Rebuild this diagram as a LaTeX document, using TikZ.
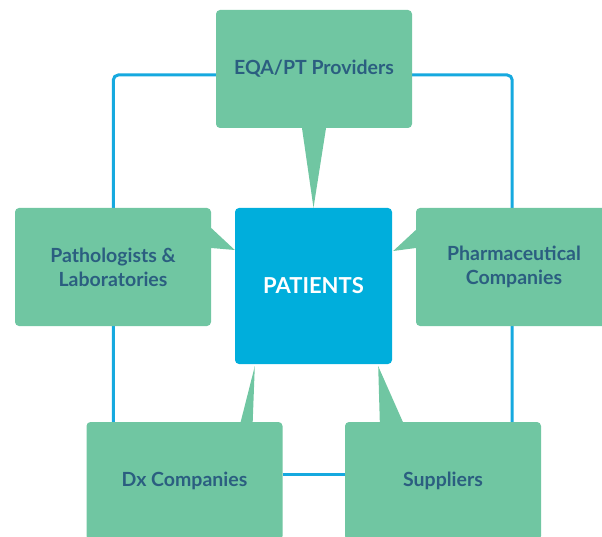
\documentclass[tikz,border=0pt]{standalone}
\usepackage{fontspec}
\setmainfont{Lato}
\usetikzlibrary{positioning,calc,backgrounds}

\definecolor{boxgreen}{HTML}{70C6A2}
\definecolor{patblue}{HTML}{00AEDC}
\definecolor{linkblue}{HTML}{16A9DF}
\definecolor{textblue}{HTML}{2B5E80}

\begin{document}
\begin{tikzpicture}[
  x=1pt, y=1pt,
  font=\fontsize{19.5}{24}\selectfont\bfseries,
  party/.style={fill=boxgreen, rounded corners=4pt, align=center, text=textblue,
    minimum width=196pt, minimum height=118pt, inner sep=0pt},
  centre/.style={fill=patblue, rounded corners=4pt, align=center, text=white,
    minimum width=157pt, minimum height=156pt, inner sep=0pt,
    font=\fontsize{22}{26}\selectfont\bfseries},
  link/.style={draw=linkblue, line width=3pt, rounded corners=5pt},
  pointer/.style={fill=boxgreen},
]
  \clip (0,0) rectangle (602,536);
  \useasboundingbox (0,0) rectangle (602,536);

  % boxes
  \node[centre] (pat) at (313.5,250) {PATIENTS};
  \node[party] (eqa) at (314,467) {EQA/PT Providers};
  \node[party] (path) at (113,269) {Pathologists \&\\Laboratories};
  \node[party] (pharma) at (514,269) {Pharmaceutical\\Companies};
  \node[party] (dx) at (184.5,55) {Dx Companies};
  \node[party] (sup) at (443,55) {Suppliers};

  % connecting lines, behind the boxes
  \begin{scope}[on background layer]
    \draw[link] ([xshift=27pt]dx.north west) |- ([yshift=-6pt]eqa.west);
    \draw[link] ([xshift=-29pt]sup.north east) |- ([yshift=-6pt]eqa.east);
    \draw[link] ([yshift=7pt]dx.east) -- ([yshift=7pt]sup.west);
  \end{scope}

  % speech pointers towards the patients
  \fill[pointer] ([xshift=-12pt]eqa.south) -- ([xshift=12pt]eqa.south) -- (pat.north) -- cycle;
  \fill[pointer] ([yshift=39pt]path.east) -- ([yshift=19pt]path.east) -- ([yshift=36pt]pat.west) -- cycle;
  \fill[pointer] ([yshift=37pt]pharma.west) -- ([yshift=19pt]pharma.west) -- ([xshift=1pt,yshift=35pt]pat.east) -- cycle;
  \fill[pointer] ([xshift=-42pt]dx.north east) -- ([xshift=-30pt]dx.north east) -- ([xshift=20pt,yshift=-2pt]pat.south west) -- cycle;
  \fill[pointer] ([xshift=35pt]sup.north west) -- ([xshift=58pt]sup.north west) -- ([xshift=-14pt,yshift=-2pt]pat.south east) -- cycle;
\end{tikzpicture}
\end{document}
